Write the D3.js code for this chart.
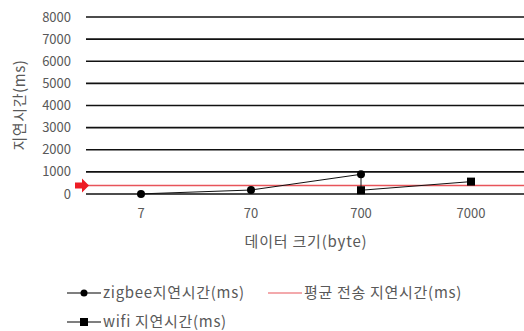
<!DOCTYPE html>
<html>
<head>
<meta charset="utf-8">
<script src="https://cdn.jsdelivr.net/npm/d3@7"></script>
<style>
  body { margin: 0; background: #fff; }
  text { font-family: "Noto Sans CJK KR", "Noto Sans", sans-serif; fill: #595959; }
</style>
</head>
<body>
<div id="chart"></div>
<script>
const categories = ["7", "70", "700", "7000"];
const zigbee = [5, 180, 890, null];
const wifi = [null, null, 170, 560];
const average = 380;
const yTicks = [0, 1000, 2000, 3000, 4000, 5000, 6000, 7000, 8000];

const W = 524, H = 331;
const margin = {top: 17, right: -2, bottom: 137, left: 86};
const width = W - margin.left - margin.right;
const height = H - margin.top - margin.bottom;

const svg = d3.select("#chart").append("svg")
    .attr("width", W).attr("height", H);
const g = svg.append("g").attr("transform", `translate(${margin.left},${margin.top})`);

const x = d3.scaleBand().domain(categories).range([0, width]);
const y = d3.scaleLinear().domain([0, 8000]).range([height, 0]);
const cx = c => x(c) + x.bandwidth() / 2;

// gridlines
g.selectAll(".grid").data(yTicks).enter().append("line")
    .attr("x1", 0).attr("x2", width)
    .attr("y1", d => y(d)).attr("y2", d => y(d))
    .attr("stroke", "#111").attr("stroke-width", 1.6);

// y tick labels
g.selectAll(".ylab").data(yTicks).enter().append("text")
    .attr("x", -15).attr("y", d => y(d)).attr("dy", "0.35em")
    .attr("text-anchor", "end").attr("font-size", 13).text(d => d);

// x tick labels
g.selectAll(".xlab").data(categories).enter().append("text")
    .attr("x", cx).attr("y", height + 24)
    .attr("text-anchor", "middle").attr("font-size", 13).text(d => d);

// axis titles
svg.append("text").attr("transform", `translate(25,${margin.top + 88}) rotate(-90)`)
    .attr("text-anchor", "middle").attr("font-size", 15).attr("letter-spacing", 0.6).text("지연시간(ms)");
svg.append("text").attr("x", margin.left + width / 2).attr("y", 247)
    .attr("text-anchor", "middle").attr("font-size", 15).attr("letter-spacing", 0.8).text("데이터 크기(byte)");

// average line + arrow
g.append("line").attr("x1", 0).attr("x2", width)
    .attr("y1", y(average)).attr("y2", y(average))
    .attr("stroke", "#e8545a").attr("stroke-width", 1.5);
const ay = y(average);
g.append("path")
    .attr("d", `M-11,${ay - 3} L-4,${ay - 3} L-4,${ay - 7} L3,${ay} L-4,${ay + 7} L-4,${ay + 3} L-11,${ay + 3} Z`)
    .attr("fill", "#ed1c24");

// series
const line = d3.line().defined(d => d[1] != null).x(d => cx(d[0])).y(d => y(d[1]));
const zData = categories.map((c, i) => [c, zigbee[i]]);
const wData = categories.map((c, i) => [c, wifi[i]]);

g.append("path").datum(zData).attr("d", line).attr("fill", "none").attr("stroke", "#111").attr("stroke-width", 1);
g.append("path").datum(wData).attr("d", line).attr("fill", "none").attr("stroke", "#111").attr("stroke-width", 1);
// connector at shared category
const shared = categories.filter((c, i) => zigbee[i] != null && wifi[i] != null);
g.selectAll(".conn").data(shared).enter().append("line")
    .attr("x1", cx).attr("x2", cx)
    .attr("y1", c => y(zigbee[categories.indexOf(c)]))
    .attr("y2", c => y(wifi[categories.indexOf(c)]))
    .attr("stroke", "#111").attr("stroke-width", 1);

g.selectAll(".zpt").data(zData.filter(d => d[1] != null)).enter().append("circle")
    .attr("cx", d => cx(d[0])).attr("cy", d => y(d[1])).attr("r", 4).attr("fill", "#000");
g.selectAll(".wpt").data(wData.filter(d => d[1] != null)).enter().append("rect")
    .attr("x", d => cx(d[0]) - 4).attr("y", d => y(d[1]) - 4)
    .attr("width", 8).attr("height", 8).attr("fill", "#000");

// legend
const lg = svg.append("g");
function legendItem(x0, y0, color, marker, label) {
    lg.append("line").attr("x1", x0).attr("x2", x0 + 34).attr("y1", y0).attr("y2", y0)
        .attr("stroke", color).attr("stroke-width", 1.2);
    if (marker === "circle") lg.append("circle").attr("cx", x0 + 17).attr("cy", y0).attr("r", 3.5).attr("fill", "#000");
    if (marker === "square") lg.append("rect").attr("x", x0 + 13).attr("y", y0 - 4).attr("width", 8).attr("height", 8).attr("fill", "#000");
    lg.append("text").attr("x", x0 + 36).attr("y", y0).attr("dy", "0.35em")
        .attr("font-size", 15).attr("letter-spacing", 0.7).text(label);
}
legendItem(67, 293, "#000", "circle", "zigbee지연시간(ms)");
legendItem(268, 293, "#e8545a", null, "평균 전송 지연시간(ms)");
legendItem(67, 322, "#000", "square", "wifi 지연시간(ms)");
</script>
</body>
</html>
